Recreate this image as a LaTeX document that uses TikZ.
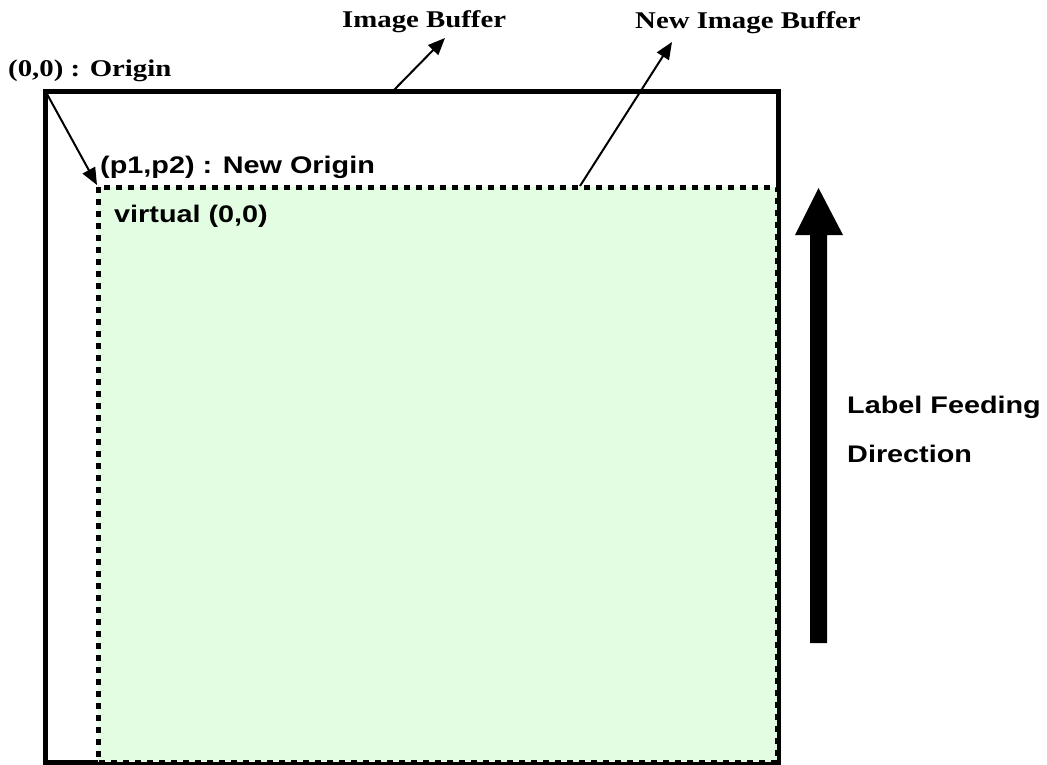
\documentclass[tikz,border=0pt]{standalone}
\usepackage{fontspec}
\setmainfont{Liberation Serif}[FakeStretch=1.2]
\setsansfont{Liberation Sans}[FakeStretch=1.2]
\usetikzlibrary{arrows.meta}
\definecolor{lightgreen}{RGB}{226,253,226}
\begin{document}
\begin{tikzpicture}[x=1pt,y=-1pt,
  seriflabel/.style={inner sep=0pt,anchor=base west,font=\rmfamily\bfseries\fontsize{24}{28}\selectfont},
  sanslabel/.style={inner sep=0pt,anchor=base west,font=\sffamily\bfseries\fontsize{24}{28}\selectfont},
  conn/.style={line width=2pt,-{Triangle[length=17pt,width=14pt]}},
  outerbox/.style={line width=5pt},
  dashbox/.style={line width=5pt,dash pattern=on 6pt off 6pt}]
\useasboundingbox (0,0) rectangle (1047,765);
% outer image buffer
\draw[outerbox] (45.5,92) rectangle (778.5,762.5);
% new image buffer
\fill[lightgreen] (98,187) rectangle (777,762);
\draw[dashbox] (98,187) rectangle (777,762);
% big feeding arrow
\fill (810,643) -- (810,235) -- (795,235) -- (818.5,188) -- (843,235) -- (827,235) -- (827,643) -- cycle;
% labels
\node[seriflabel] (ib) at (342,28) {Image Buffer};
\node[seriflabel] (nib) at (635,29) {New Image Buffer};
\node[seriflabel] (org) at (8,77) {(0,0) : Origin};
\node[sanslabel] (norg) at (100,174) {(p1,p2) : New Origin};
\node[sanslabel] (virt) at (114,222) {virtual (0,0)};
\node[sanslabel] (lf1) at (847,413) {Label Feeding};
\node[sanslabel] (lf2) at (847,462) {Direction};
% connectors
\coordinate (c1) at (47,94);
\coordinate (p) at (97,185);
\coordinate (c2) at (393,91);
\coordinate (t2) at (445,38);
\coordinate (c3) at (580,186);
\coordinate (t3) at (672,42);
\draw[conn] (c1) -- (p);
\draw[conn] (c2) -- (t2);
\draw[conn] (c3) -- (t3);
\end{tikzpicture}
\end{document}
